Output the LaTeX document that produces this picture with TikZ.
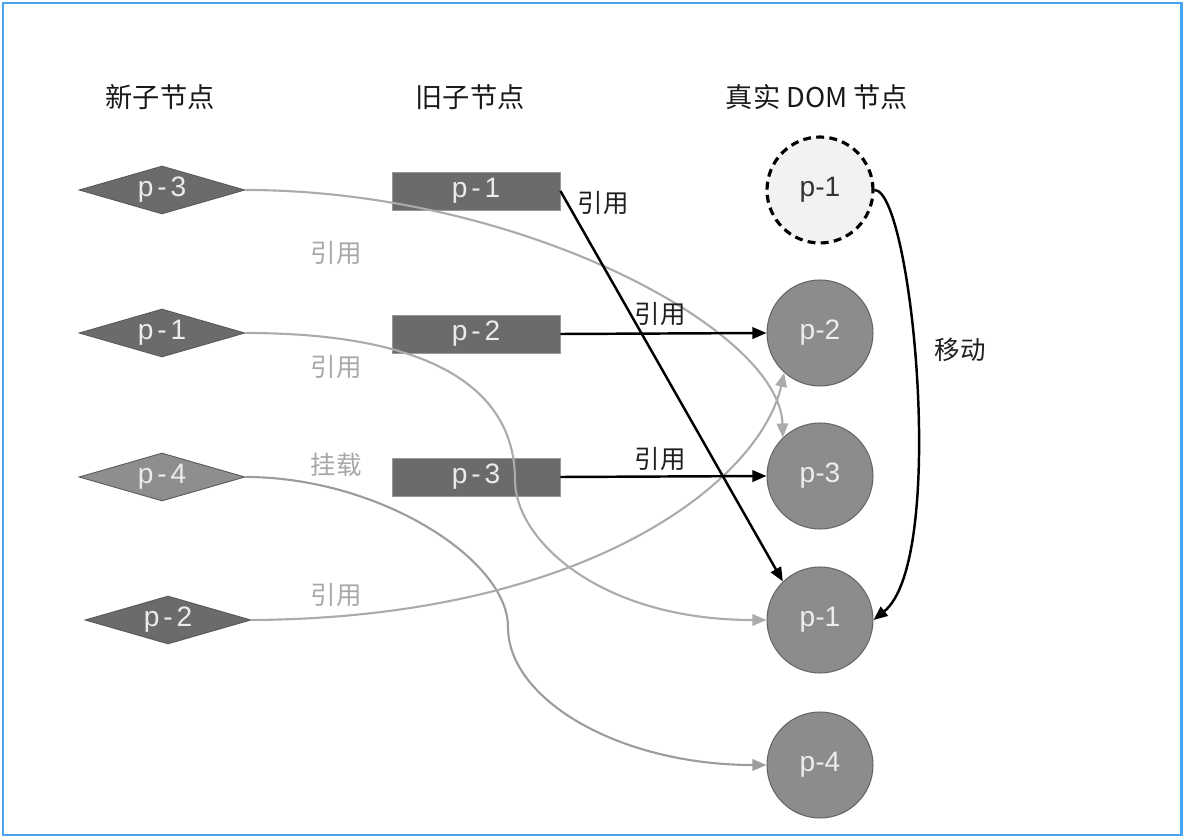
\documentclass[tikz,border=0pt]{standalone}
\usepackage{fontspec}
\setmainfont{Liberation Sans}
\newfontfamily\cjk{Noto Sans CJK SC}
\newfontfamily\spaced[LetterSpace=14]{Liberation Sans}
\usetikzlibrary{shapes.geometric,arrows.meta}
\definecolor{frameblue}{HTML}{4AA3EE}
\definecolor{darkfill}{HTML}{6B6B6B}
\definecolor{midfill}{HTML}{8E8E8E}
\definecolor{circfill}{HTML}{8C8C8C}
\definecolor{lightline}{HTML}{ABABAB}
\definecolor{mountline}{HTML}{9C9C9C}
\definecolor{labelgray}{HTML}{A8A8A8}
\begin{document}
\begin{tikzpicture}[x=0.02cm,y=-0.02cm,
 newd/.style={diamond, aspect=3.46, inner sep=0pt, minimum width=3.32cm, minimum height=0.96cm,
   fill=darkfill, draw=black!65, line width=0.5pt, text=white!92!black,
   font=\spaced\fontsize{16}{18}\selectfont},
 oldr/.style={rectangle, minimum width=3.36cm, minimum height=0.76cm, inner sep=0pt,
   fill=darkfill, draw=black!40, line width=0.5pt, text=white!92!black,
   font=\spaced\fontsize{16}{18}\selectfont},
 dom/.style={circle, minimum size=2.12cm, inner sep=0pt, fill=circfill, draw=black!60,
   line width=0.6pt, text=white!93!black, font=\fontsize{16}{18}\selectfont},
 ghost/.style={circle, minimum size=2.12cm, inner sep=0pt, fill=black!5, draw=black,
   line width=1.8pt, dash pattern=on 4.5pt off 3pt, text=black!80, font=\fontsize{16}{18}\selectfont},
 head/.style={font=\cjk\fontsize{15.5}{18}\selectfont, text=black!90},
 lab/.style={font=\cjk\fontsize{14.5}{16}\selectfont, text=black!88},
 glab/.style={font=\cjk\fontsize{14.5}{16}\selectfont, text=labelgray},
 blk/.style={draw=black, line width=1.4pt, -{Triangle[length=8pt,width=6.5pt]}},
 gry/.style={draw=lightline, line width=1.2pt, -{Triangle[length=8pt,width=6.5pt]}},
]
\useasboundingbox (0,0) rectangle (1184,838);
\draw[frameblue, line width=1.7pt] (3,3) rectangle (1181,835);

% headers
\node[head] (h1) at (160,97) {新子节点};
\node[head] (h2) at (470,97) {旧子节点};
\node[head] (h3) at (817,97) {真实 DOM 节点};

% new children
\node[newd] (n3) at (162,190) {p-3};
\node[newd] (n1) at (162,333) {p-1};
\node[newd, fill=midfill] (n4) at (162,477) {p-4};
\node[newd] (n2) at (168,620) {p-2};

% old children
\node[oldr] (o1) at (476,191) {p-1};
\node[oldr] (o2) at (476,334) {p-2};
\node[oldr] (o3) at (476,477) {p-3};

% real DOM
\node[ghost] (d1old) at (820,190) {p-1};
\node[dom] (d2) at (820,333) {p-2};
\node[dom] (d3) at (820,476) {p-3};
\node[dom] (d1) at (820,620) {p-1};
\node[dom] (d4) at (820,765) {p-4};

% gray connectors
\draw[gry] (n3.east) .. controls (520,190) and (780,330) .. (d3.134);
\draw[gry] (n1.east) .. controls (450,333) and (515,400) .. (515,480)
  .. controls (515,540) and (600,620) .. (d1.west);
\draw[gry, draw=mountline] (n4.east) .. controls (380,477) and (508,560) .. (508,627)
  .. controls (508,700) and (620,765) .. (d4.west);
\draw[gry] (n2.east) .. controls (590,618) and (760,480) .. (d2.228);

% black connectors
\draw[blk] (o1.east) -- (d1.134);
\draw[blk] (o2.east) -- (d2.west);
\draw[blk] (o3.east) -- (d3.west);
\draw[blk] (d1old.east) .. controls (912,190) and (948,560) .. (d1.east);

% labels
\node[glab] (l1) at (336,253) {引用};
\node[glab] (l2) at (336,367) {引用};
\node[glab] (l3) at (336,465) {挂载};
\node[glab] (l4) at (336,595) {引用};
\node[lab] (l5) at (603,203) {引用};
\node[lab] (l6) at (660,314) {引用};
\node[lab] (l7) at (660,459) {引用};
\node[lab] (l8) at (960,350) {移动};
\end{tikzpicture}
\end{document}
